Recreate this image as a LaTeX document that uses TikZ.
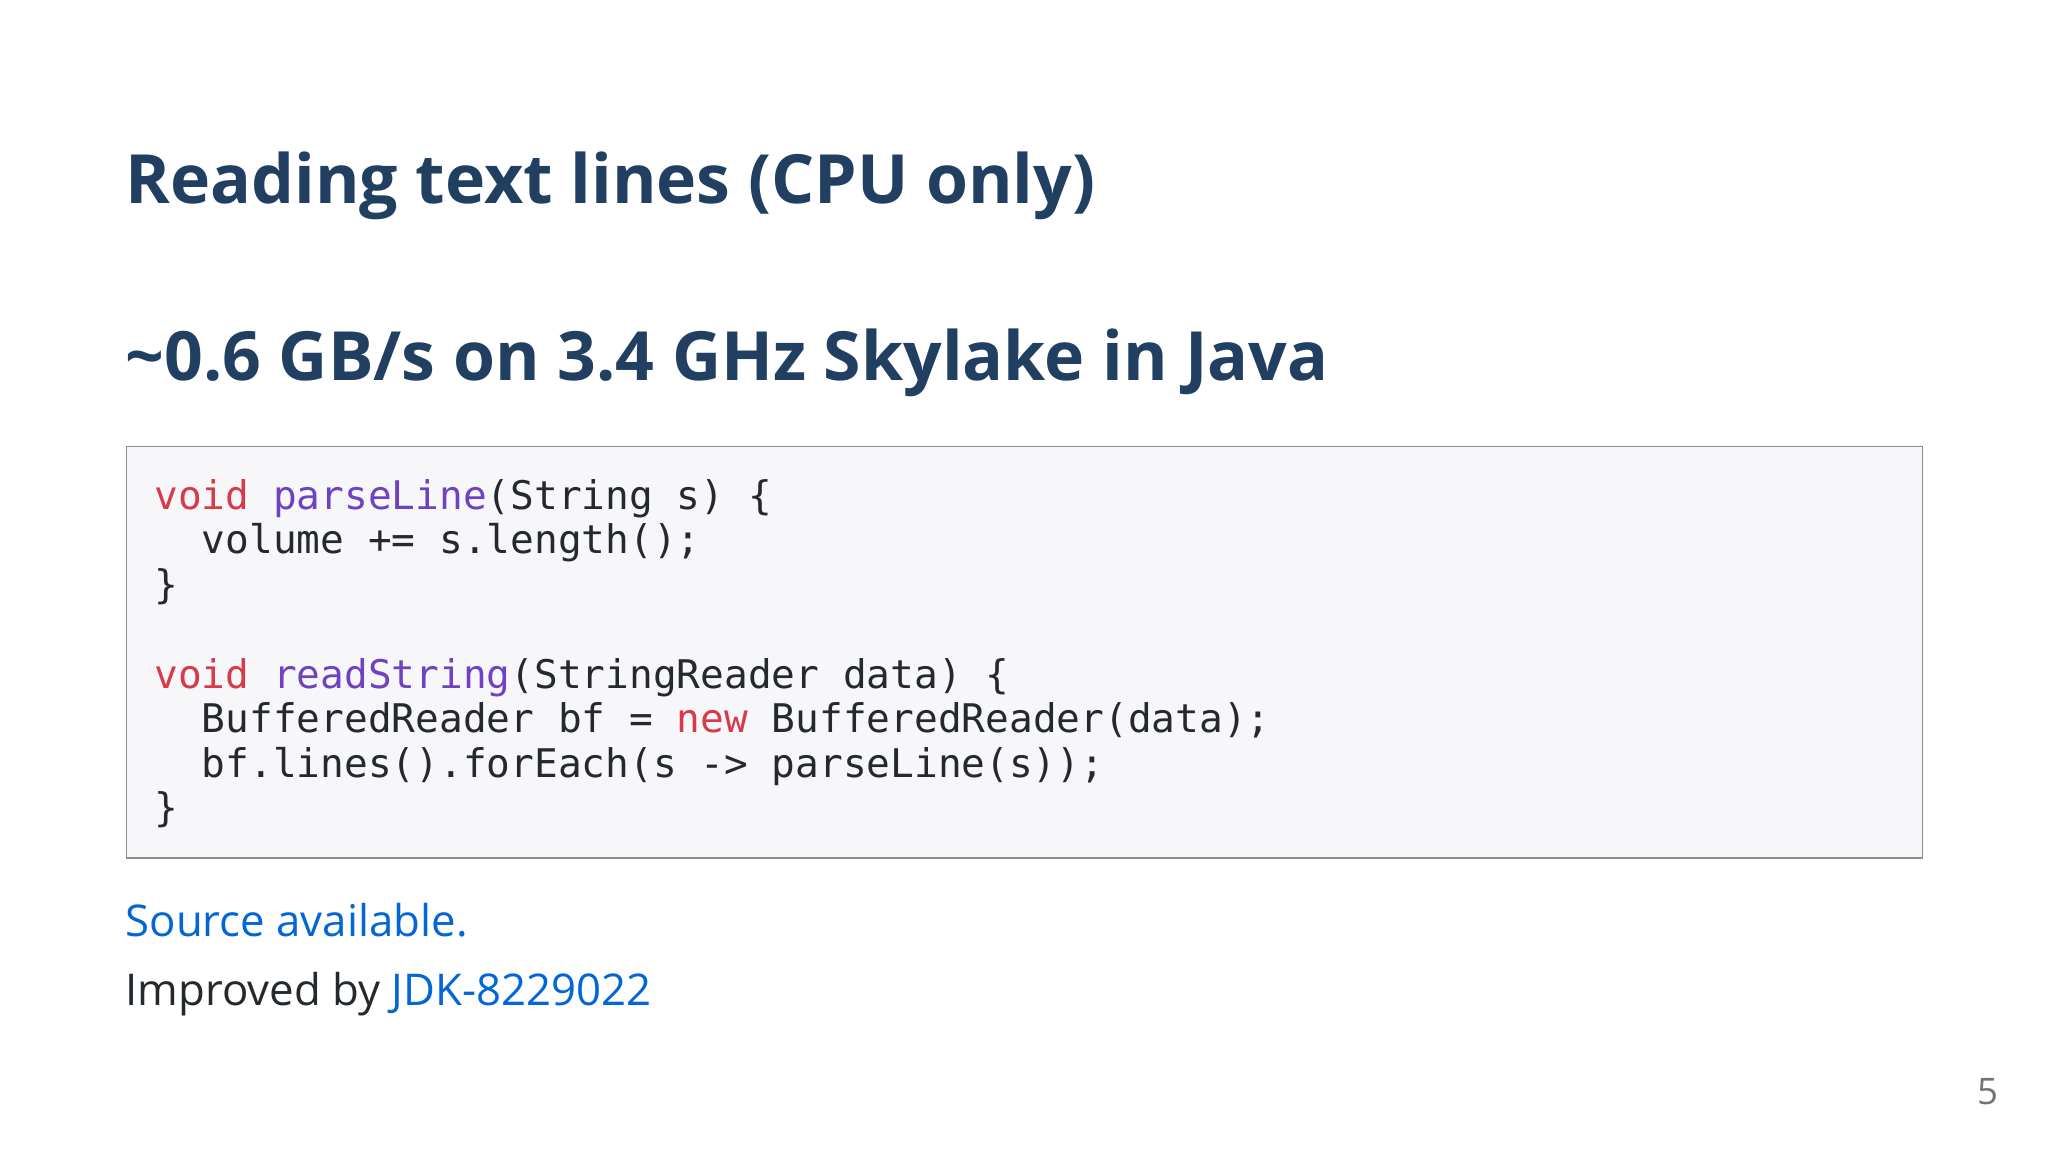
\documentclass[tikz,border=0pt]{standalone}
\usepackage{fontspec}
\setmainfont{Open Sans}
\setmonofont{DejaVu Sans Mono}
\definecolor{ttl}{HTML}{213F60}
\definecolor{kw}{HTML}{D73A49}
\definecolor{fn}{HTML}{6F42C1}
\definecolor{lnk}{HTML}{0366D6}
\definecolor{txt}{HTML}{24292E}
\definecolor{codebg}{HTML}{F7F7FA}
\begin{document}
\begin{tikzpicture}[x=1pt,y=-1pt,
  title/.style={anchor=base west,inner sep=0,font=\fontsize{52}{60}\selectfont\bfseries,text=ttl},
  code/.style={anchor=base west,inner sep=0,font=\ttfamily\fontsize{30.2}{34}\selectfont,text=txt},
  body/.style={anchor=base west,inner sep=0,font=\fontsize{33.5}{40}\selectfont,text=txt}]
\useasboundingbox[fill=white] (0,0) rectangle (1568,882);
\node[title] (t1) at (96,156) {Reading text lines (CPU only)};
\node[title] (t2) at (96,291) {\textasciitilde0.6 GB/s on 3.4 GHz Skylake in Java};
\draw[fill=codebg,draw=black!45,line width=1.2] (97,342) rectangle (1472,657);
\node[code] (c1) at (118,390) {\textcolor{kw}{void} \textcolor{fn}{parseLine}(String s) \{};
\node[code] (c2) at (118,424) {\ \ volume += s.length();};
\node[code] (c3) at (118,458) {\}};
\node[code] (c4) at (118,527) {\textcolor{kw}{void} \textcolor{fn}{readString}(StringReader data) \{};
\node[code] (c5) at (118,561) {\ \ BufferedReader bf = \textcolor{kw}{new} BufferedReader(data);};
\node[code] (c6) at (118,595) {\ \ bf.lines().forEach(s -> parseLine(s));};
\node[code] (c7) at (118,629) {\}};
\node[body,text=lnk] (s1) at (96,717) {Source available.};
\node[body] (s2) at (96,770) {Improved by \textcolor{lnk}{JDK-8229022}};
\node[anchor=base east,inner sep=0,font=\fontsize{28}{30}\selectfont,text=black!55] (pg) at (1530,846) {5};
\end{tikzpicture}
\end{document}
